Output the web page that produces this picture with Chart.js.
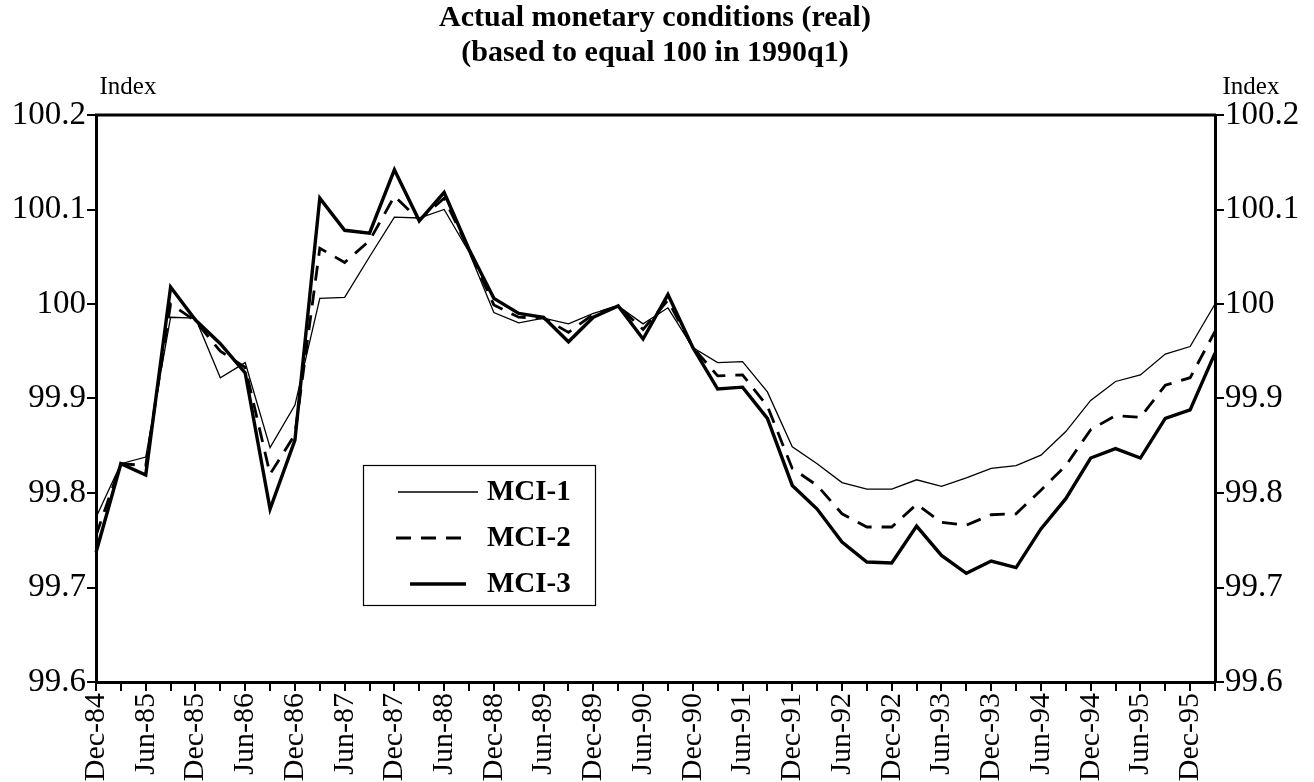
<!DOCTYPE html>
<html><head><meta charset="utf-8">
<script src="https://cdn.jsdelivr.net/npm/chart.js@4.4.1/dist/chart.umd.min.js"></script>
<style>html,body{margin:0;padding:0;background:#fff;}canvas{display:block;}</style>
</head><body>
<canvas id="c" width="1314" height="782"></canvas>
<script>
const categories = ["Dec-84","Mar-85","Jun-85","Sep-85","Dec-85","Mar-86","Jun-86","Sep-86","Dec-86","Mar-87","Jun-87","Sep-87","Dec-87","Mar-88","Jun-88","Sep-88","Dec-88","Mar-89","Jun-89","Sep-89","Dec-89","Mar-90","Jun-90","Sep-90","Dec-90","Mar-91","Jun-91","Sep-91","Dec-91","Mar-92","Jun-92","Sep-92","Dec-92","Mar-93","Jun-93","Sep-93","Dec-93","Mar-94","Jun-94","Sep-94","Dec-94","Mar-95","Jun-95","Sep-95","Dec-95","Mar-96"];
const mci1 = [99.774,99.831,99.838,99.986,99.985,99.922,99.938,99.848,99.893,100.006,100.007,100.050,100.092,100.091,100.100,100.055,99.991,99.980,99.985,99.979,99.990,99.998,99.979,99.996,99.954,99.938,99.939,99.907,99.849,99.831,99.811,99.804,99.804,99.814,99.807,99.816,99.826,99.829,99.840,99.865,99.898,99.918,99.925,99.947,99.955,100.000];
const mci2 = [99.755,99.831,99.829,100.000,99.982,99.950,99.933,99.820,99.862,100.059,100.044,100.067,100.114,100.089,100.112,100.057,99.999,99.986,99.985,99.970,99.989,99.998,99.973,100.004,99.954,99.924,99.925,99.892,99.826,99.808,99.778,99.764,99.764,99.788,99.769,99.766,99.777,99.778,99.803,99.829,99.867,99.882,99.880,99.914,99.922,99.971];
const mci3 = [99.737,99.831,99.819,100.018,99.983,99.958,99.927,99.783,99.856,100.112,100.078,100.075,100.142,100.088,100.118,100.058,100.006,99.990,99.986,99.960,99.986,99.998,99.963,100.010,99.954,99.910,99.912,99.879,99.808,99.783,99.748,99.727,99.726,99.765,99.734,99.715,99.728,99.721,99.762,99.794,99.837,99.847,99.837,99.879,99.888,99.948];
const seriesNames = ["MCI-1","MCI-2","MCI-3"];
const yMin = 99.6, yMax = 100.2, yStep = 0.1;
const titleLines = ["Actual monetary conditions (real)","(based to equal 100 in 1990q1)"];
const axisTitle = "Index";

const SERIF = "'Liberation Serif','Times New Roman',serif";
const fmt = v => String(parseFloat(Number(v).toFixed(1)));

const styles = [
  {borderWidth:1.3, borderDash:[]},
  {borderWidth:2.8, borderDash:[15,10]},
  {borderWidth:3.4, borderDash:[]}
];

const decor = {
  id:'decor',
  afterDraw(chart){
    const ctx = chart.ctx, a = chart.chartArea;
    ctx.save();
    ctx.fillStyle = '#000';
    ctx.textAlign = 'center'; ctx.textBaseline = 'middle';
    ctx.font = "bold 30px " + SERIF;
    ctx.fillText(titleLines[0], 655, 18);
    ctx.fillText(titleLines[1], 655, 53);
    ctx.font = "25px " + SERIF;
    ctx.fillText(axisTitle, 128, 87);
    ctx.fillText(axisTitle, 1251, 87);
    // top frame line
    ctx.strokeStyle = '#000'; ctx.lineWidth = 3;
    ctx.beginPath(); ctx.moveTo(a.left-1, a.top); ctx.lineTo(a.right+1, a.top); ctx.stroke();
    // legend box
    const bx = 363, by = 465, bw = 232, bh = 140;
    ctx.lineWidth = 1.2;
    ctx.strokeRect(bx+0.5, by+0.5, bw, bh);
    const rows = [492, 538, 584];
    const seg = [[398,478],[396,470],[410,466]];
    chart.data.datasets.forEach((ds,i)=>{
      ctx.lineWidth = ds.borderWidth;
      ctx.setLineDash(ds.borderDash || []);
      ctx.beginPath(); ctx.moveTo(seg[i][0], rows[i]); ctx.lineTo(seg[i][1], rows[i]); ctx.stroke();
      ctx.setLineDash([]);
      ctx.font = "bold 29px " + SERIF;
      ctx.textAlign = 'left';
      ctx.fillText(ds.label, 487, rows[i]+1);
    });
    ctx.restore();
  }
};

const tickFont = {family: SERIF, size: 33};

new Chart(document.getElementById('c'), {
  type:'line',
  data:{
    labels: categories,
    datasets:[mci1,mci2,mci3].map((d,i)=>({
      label: seriesNames[i], data: d, borderColor:'#000', backgroundColor:'#000',
      borderWidth: styles[i].borderWidth, borderDash: styles[i].borderDash,
      pointRadius:0, tension:0, fill:false, yAxisID:'y'
    }))
  },
  options:{
    responsive:false, animation:false,
    layout:{padding:{top:115,left:0,right:0,bottom:0}},
    plugins:{legend:{display:false}, title:{display:false}, tooltip:{enabled:false}},
    scales:{
      x:{
        type:'category', offset:false,
        grid:{drawOnChartArea:false, drawTicks:true, tickLength:9, color:'#000', lineWidth:2},
        border:{display:true, color:'#000', width:3},
        ticks:{autoSkip:false, maxRotation:90, minRotation:90, padding:2, color:'#000', font:{family:SERIF,size:30},
          callback:(v,i)=> i%2===0 ? categories[i] : ''},
        afterFit:s=>{s.height=100;}
      },
      y:{
        position:'left', min:yMin, max:yMax,
        grid:{drawOnChartArea:false, drawTicks:true, tickLength:9, color:'#000', lineWidth:2},
        border:{display:true, color:'#000', width:3},
        ticks:{stepSize:yStep, padding:1, color:'#000', font:tickFont, callback:v=>fmt(v)},
        afterFit:s=>{s.width=96;}
      },
      y2:{
        position:'right', min:yMin, max:yMax,
        grid:{drawOnChartArea:false, drawTicks:true, tickLength:9, color:'#000', lineWidth:2},
        border:{display:true, color:'#000', width:3},
        ticks:{stepSize:yStep, padding:1, color:'#000', font:tickFont, callback:v=>fmt(v)},
        afterFit:s=>{s.width=99;}
      }
    }
  },
  plugins:[decor]
});
</script>
</body></html>
